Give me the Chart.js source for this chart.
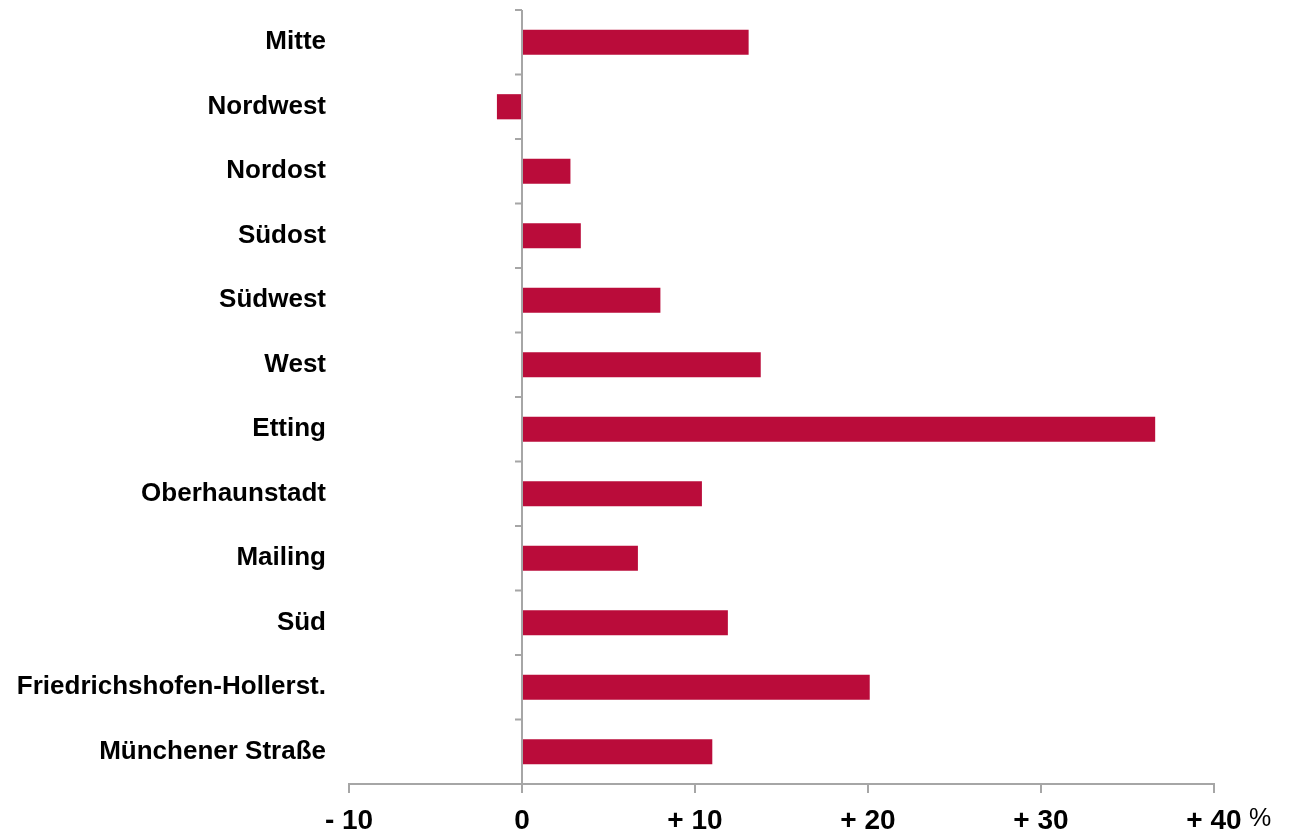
<!DOCTYPE html>
<html>
<head>
<meta charset="utf-8">
<script src="https://cdn.jsdelivr.net/npm/chart.js@4"></script>
<style>
html,body{margin:0;padding:0;background:#fff;}
#wrap{width:1300px;height:835px;position:relative;}
</style>
</head>
<body>
<div id="wrap"><canvas id="c" width="1300" height="835"></canvas></div>
<script>
const categories = ["Mitte","Nordwest","Nordost","Südost","Südwest","West","Etting","Oberhaunstadt","Mailing","Süd","Friedrichshofen-Hollerst.","Münchener Straße"];
const values = [13.1, -1.45, 2.8, 3.4, 8.0, 13.8, 36.6, 10.4, 6.7, 11.9, 20.1, 11.0];
const tickValues = [-10, 0, 10, 20, 30, 40];
const tickLabels = ["- 10", "0", "+ 10", "+ 20", "+ 30", "+ 40"];
const unitLabel = "%";

const AXIS = '#A6A6A6';
const FONT = '"Liberation Sans", Arial, sans-serif';

const zeroAxis = {
  id: 'zeroAxis',
  afterDatasetsDraw(chart) {
    const {ctx, chartArea} = chart;
    const xs = chart.scales.x, ys = chart.scales.y;
    const x0 = xs.getPixelForValue(0);
    ctx.save();
    ctx.strokeStyle = AXIS;
    ctx.lineWidth = 2;
    ctx.beginPath();
    ctx.moveTo(x0, chartArea.top);
    ctx.lineTo(x0, chartArea.bottom);
    const n = categories.length;
    const band = (chartArea.bottom - chartArea.top) / n;
    for (let i = 0; i < n; i++) {
      const yb = ys.getPixelForValue(i) - band / 2;
      ctx.moveTo(x0 - 7, yb);
      ctx.lineTo(x0, yb);
    }
    ctx.stroke();
    // unit label
    const x40 = xs.getPixelForValue(40);
    ctx.fillStyle = '#000';
    ctx.font = '25px ' + FONT;
    ctx.textAlign = 'left';
    ctx.textBaseline = 'middle';
    ctx.fillText(unitLabel, x40 + 35, chartArea.bottom + 35);
    ctx.restore();
  }
};

new Chart(document.getElementById('c'), {
  type: 'bar',
  data: {
    labels: categories,
    datasets: [{
      data: values,
      backgroundColor: '#BA0C3A',
      borderWidth: 0,
      barPercentage: 0.39,
      categoryPercentage: 1.0
    }]
  },
  options: {
    indexAxis: 'y',
    responsive: false,
    animation: false,
    layout: {padding: {left: 10, top: 10, right: 86, bottom: 0}},
    plugins: {legend: {display: false}, tooltip: {enabled: false}},
    scales: {
      x: {
        min: -10, max: 40,
        afterBuildTicks: s => { s.ticks = tickValues.map(v => ({value: v})); },
        afterFit: s => { s.height = 51; s.paddingLeft = 0; s.paddingRight = 0; },
        border: {display: true, color: AXIS, width: 2},
        grid: {display: true, drawOnChartArea: false, drawTicks: true, tickLength: 9, color: AXIS, lineWidth: 2},
        ticks: {
          padding: 11,
          color: '#000',
          font: {family: FONT, size: 28, weight: 'bold'},
          callback: (v) => { const i = tickValues.indexOf(v); return i >= 0 ? tickLabels[i] : ''; },
          maxRotation: 0, autoSkip: false
        }
      },
      y: {
        afterFit: s => { s.width = 339; s.paddingTop = 0; s.paddingBottom = 0; },
        border: {display: false},
        grid: {display: false, drawTicks: false},
        ticks: {
          padding: 23,
          color: '#000',
          font: {family: FONT, size: 26, weight: 'bold'},
          autoSkip: false
        }
      }
    }
  },
  plugins: [zeroAxis]
});
</script>
</body>
</html>
